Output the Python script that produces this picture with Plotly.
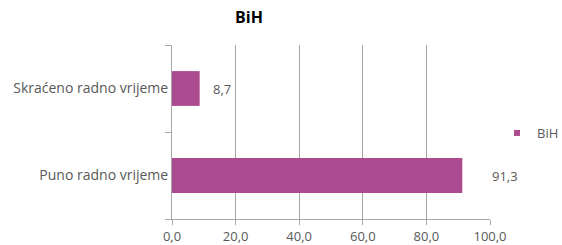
import plotly.graph_objects as go

categories = ["Puno radno vrijeme", "Skraćeno radno vrijeme"]
values = [91.3, 8.7]
labels = ["91,3", "8,7"]
series_name = "BiH"
x_ticks = [0, 20, 40, 60, 80, 100]
x_tick_labels = ["0,0", "20,0", "40,0", "60,0", "80,0", "100,0"]

color = "#AD4B91"
font = "Open Sans, Noto Sans, sans-serif"
gray = "#595959"
line_gray = "#A6A6A6"
label_shift = [28, 11]

fig = go.Figure()
fig.add_trace(go.Bar(
    x=values, y=categories, orientation="h",
    marker=dict(color=color, line=dict(width=0)),
    showlegend=False, width=0.4,
))
fig.add_trace(go.Scatter(
    x=[None], y=[None], mode="markers", name=series_name,
    marker=dict(symbol="square", size=6, color=color),
))
for v, c, t, s in zip(values, categories, labels, label_shift):
    fig.add_annotation(x=v, y=c, text=t, showarrow=False, xanchor="left",
                       xshift=s, font=dict(family=font, size=13, color=gray))

fig.update_layout(
    width=562, height=245,
    margin=dict(l=172, r=72, t=45, b=26, autoexpand=False),
    paper_bgcolor="white", plot_bgcolor="white",
    title=dict(text="<b>BiH</b>", x=249/562, xanchor="center",
               yref="container", y=1 - 17/245, yanchor="middle",
               font=dict(family=font, size=16, color="black")),
    legend=dict(xref="container", x=497/562, xanchor="left",
                yref="container", y=1 - 133/245, yanchor="middle",
                font=dict(family=font, size=13, color=gray),
                itemwidth=30, tracegroupgap=0, bgcolor="rgba(0,0,0,0)"),
    xaxis=dict(range=[0, 100], tickvals=x_ticks, ticktext=x_tick_labels,
               automargin=False,
               showgrid=True, gridcolor=line_gray, gridwidth=1,
               zeroline=False, showline=True, linecolor=line_gray, linewidth=1,
               ticks="outside", ticklen=5, tickcolor=line_gray,
               tickfont=dict(family=font, size=13, color=gray)),
    yaxis=dict(categoryorder="array", categoryarray=categories,
               automargin=False,
               showgrid=False, zeroline=False, showline=True,
               linecolor=line_gray, linewidth=1,
               ticks="outside", ticklen=6, tickcolor=line_gray,
               tickson="boundaries",
               tickfont=dict(family=font, size=14, color=gray)),
)

fig.write_html("out.html", config={"displayModeBar": False},
               post_script="document.body.style.margin='0';document.body.style.overflow='hidden';")
